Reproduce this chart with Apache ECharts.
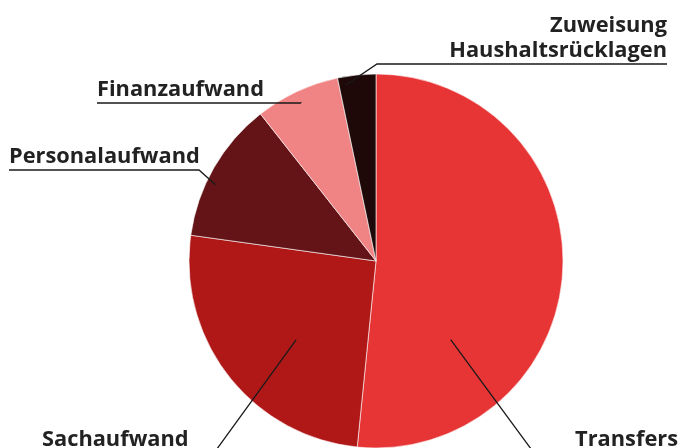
<!DOCTYPE html>
<html><head><meta charset="utf-8">
<script src="https://cdn.jsdelivr.net/npm/echarts@6/dist/echarts.min.js"></script>
<style>html,body{margin:0;padding:0;background:#fff}#c{width:692px;height:448px}</style>
</head><body><div id="c"></div>
<script>
// Data
const categories = ['Transfers', 'Sachaufwand', 'Personalaufwand', 'Finanzaufwand', 'Zuweisung Haushaltsrücklagen'];
const labelTexts = ['Transfers', 'Sachaufwand', 'Personalaufwand', 'Finanzaufwand', 'Zuweisung\nHaushaltsrücklagen'];
const values = [51.6, 25.6, 12.2, 7.3, 3.3];
const colors = ['#e73434', '#b01818', '#641317', '#f08383', '#1e0808'];

// Layout (styles / positions of annotations)
const CENTER = [376, 261];
const RADIUS = 187;
const LABEL_LAYOUT = [
  { x: 678, y: 440, align: 'right', inner: [136.5, 0.58], bend: [534, 453], end: [678, 453] },
  { x: 42,  y: 440, align: 'left',  inner: [225.4, 0.60], bend: [214, 453], end: [42, 453] },
  { x: 9,   y: 157, align: 'left',  inner: [295.4, 0.95], bend: [199, 170], end: [9, 170] },
  { x: 97,  y: 90,  align: 'left',  inner: [334.6, 0.935], bend: null, end: [97, 103] },
  { x: 667, y: 38,  align: 'right', inner: [350.3, 0.955], bend: [377, 64], end: [667, 64] }
];

const pieData = (transparent) => categories.map((n, i) => ({
  name: n, value: values[i],
  itemStyle: { color: transparent ? 'rgba(0,0,0,0)' : colors[i] }
}));

const chart = echarts.init(document.getElementById('c'));
chart.setOption({
  animation: false,
  backgroundColor: '#fff',
  series: [{
    type: 'pie',
    z: 2,
    center: CENTER,
    radius: RADIUS,
    startAngle: 90,
    clockwise: true,
    data: pieData(false),
    itemStyle: { borderColor: '#ffffff', borderWidth: 0.6 },
    emphasis: { disabled: true },
    label: { show: false },
    labelLine: { show: false }
  }, {
    type: 'pie',
    z: 5,
    silent: true,
    center: CENTER,
    radius: RADIUS,
    startAngle: 90,
    clockwise: true,
    avoidLabelOverlap: false,
    data: pieData(true),
    itemStyle: { borderWidth: 0 },
    emphasis: { disabled: true },
    label: {
      show: true,
      position: 'outside',
      formatter: p => labelTexts[p.dataIndex],
      color: '#222222',
      fontFamily: 'Open Sans',
      fontWeight: 'bold',
      fontSize: 21.8,
      lineHeight: 25
    },
    labelLine: { show: true, length: 10, length2: 10, lineStyle: { color: '#1a1a1a', width: 1.3 } },
    labelLayout: function (params) {
      const L = LABEL_LAYOUT[params.dataIndex];
      const a = L.inner[0] * Math.PI / 180;
      const r = L.inner[1] * RADIUS;
      const p0 = [CENTER[0] + r * Math.sin(a), CENTER[1] - r * Math.cos(a)];
      const pts = L.bend ? [p0, L.bend, L.end] : [p0, [p0[0], L.end[1]], L.end];
      return { x: L.x, y: L.y, align: L.align, verticalAlign: 'middle', labelLinePoints: pts };
    }
  }]
});
</script>
</body></html>
